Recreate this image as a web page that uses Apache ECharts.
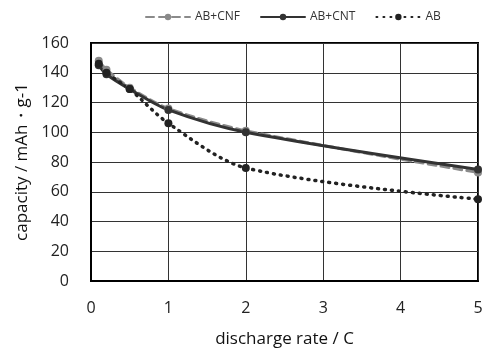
<!doctype html>
<html>
<head>
<meta charset="utf-8">
<script src="https://cdn.jsdelivr.net/npm/echarts@6/dist/echarts.min.js"></script>
<style>html,body{margin:0;background:#fff;}#chart{width:484px;height:350px;}</style>
</head>
<body>
<div id="chart"></div>
<script>
const rates = [0.1, 0.2, 0.5, 1, 2, 5];
const abCnf = [148, 142, 130, 116, 101, 73];
const abCnt = [145, 139, 129, 115, 100, 75];
const ab = [146, 140, 129, 106, 76, 55];
const seriesNames = ['AB+CNF', 'AB+CNT', 'AB'];

const font = 'Open Sans';
const pairs = (vals) => rates.map((r, i) => [r, vals[i]]);

function line(name, vals, color, type, width) {
  return {
    name,
    type: 'line',
    data: pairs(vals),
    smooth: 0.3,
    symbol: 'circle',
    symbolSize: 8,
    itemStyle: { color },
    lineStyle: { color, width, type, cap: 'round' },
  };
}

const chart = echarts.init(document.getElementById('chart'));
chart.setOption({
  animation: false,
  backgroundColor: '#fff',
  legend: {
    top: 6,
    left: 140,
    itemWidth: 44,
    itemHeight: 8,
    itemGap: 20,
    textStyle: { fontFamily: font, fontSize: 12, color: '#333' },
    data: seriesNames,
  },
  grid: {
    left: 91, right: 6, top: 43, bottom: 69,
    outerBoundsMode: 'none',
    show: true, borderColor: '#000', borderWidth: 2,
  },
  xAxis: {
    type: 'value',
    min: 0, max: 5, interval: 1,
    name: 'discharge rate / C',
    nameLocation: 'middle',
    nameGap: 50,
    nameTextStyle: { fontFamily: font, fontSize: 17, color: '#111' },
    axisLine: { lineStyle: { color: '#000', width: 2 } },
    axisTick: { show: false },
    axisLabel: { fontFamily: font, fontSize: 16, color: '#222', margin: 19 },
    splitLine: { lineStyle: { color: '#333', width: 1 } },
  },
  yAxis: {
    type: 'value',
    min: 0, max: 160, interval: 20,
    name: 'capacity / mAh・g-1',
    nameLocation: 'middle',
    nameGap: 60,
    nameTextStyle: { fontFamily: font, fontSize: 17, color: '#111', fontWeight: 500 },
    axisLine: { show: true, lineStyle: { color: '#000', width: 2 } },
    axisTick: { show: false },
    axisLabel: { fontFamily: font, fontSize: 16, color: '#222', margin: 22 },
    splitLine: { lineStyle: { color: '#333', width: 1 } },
  },
  series: [
    line(seriesNames[0], abCnf, '#8a8a8a', [8, 5], 3),
    line(seriesNames[1], abCnt, '#333333', 'solid', 3),
    line(seriesNames[2], ab, '#222222', [1, 6], 3.5),
  ],
});
</script>
</body>
</html>
